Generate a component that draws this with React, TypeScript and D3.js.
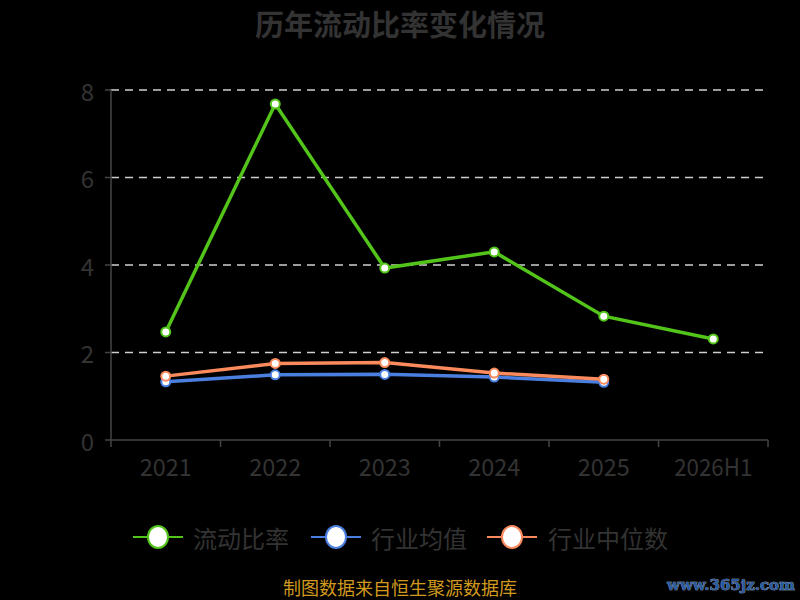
import React from "react";
import { scaleBand, scaleLinear, line } from "d3";

const categories = ["2021", "2022", "2023", "2024", "2025", "2026H1"];
const currentRatio = [2.47, 7.68, 3.93, 4.3, 2.83, 2.31];
const industryMean = [1.33, 1.49, 1.5, 1.44, 1.32];
const industryMedian = [1.46, 1.75, 1.77, 1.53, 1.39];
const yTicks = [0, 2, 4, 6, 8];

const seriesList = [
  { name: "流动比率", values: currentRatio, color: "#52c41a" },
  { name: "行业均值", values: industryMean, color: "#4a7fe0" },
  { name: "行业中位数", values: industryMedian, color: "#fb8a5c" },
];

const W = 800;
const H = 600;
const left = 111;
const right = 768;
const top = 90;
const bottom = 440;
const font = "'Noto Sans CJK SC', 'Noto Sans', sans-serif";
const textColor = "#333";

export default function App() {
  const x = scaleBand<string>().domain(categories).range([left, right]);
  const y = scaleLinear().domain([0, 8]).range([bottom, top]);
  const cx = (c: string) => (x(c) ?? 0) + x.bandwidth() / 2;

  // mean first, then median, green on top
  const drawOrder = [1, 2, 0];

  const legendItems = [
    { i: 0, sx: 158, tx: 193 },
    { i: 1, sx: 336, tx: 371 },
    { i: 2, sx: 512, tx: 548 },
  ];

  return (
    <svg
      width={W}
      height={H}
      style={{ position: "absolute", left: 0, top: 0, background: "#000" }}
    >
      <rect x={0} y={0} width={W} height={H} fill="#000" />
      <text
        x={400}
        y={23}
        textAnchor="middle"
        dominantBaseline="central"
        fontFamily={font}
        fontWeight="bold"
        fontSize={29}
        fill={textColor}
      >
        历年流动比率变化情况
      </text>

      {/* grid */}
      {yTicks.map((t) => (
        <g key={t}>
          {t > 0 && (
            <line
              x1={left}
              x2={right}
              y1={y(t)}
              y2={y(t)}
              stroke="#d0d0d0"
              strokeWidth={1.5}
              strokeDasharray="8 6"
            />
          )}
          <line x1={left - 6} x2={left} y1={y(t)} y2={y(t)} stroke="#444" strokeWidth={1.5} />
          <text
            x={left - 17}
            y={y(t)}
            textAnchor="end"
            dominantBaseline="central"
            fontFamily={font}
            fontSize={24}
            fill={textColor}
          >
            {t}
          </text>
        </g>
      ))}

      {/* axes */}
      <line x1={left} x2={left} y1={top} y2={bottom} stroke="#444" strokeWidth={1.5} />
      <line x1={left} x2={right} y1={bottom} y2={bottom} stroke="#444" strokeWidth={1.5} />
      {categories.map((c) => (
        <line
          key={"t" + c}
          x1={x(c)}
          x2={x(c)}
          y1={bottom}
          y2={bottom + 7}
          stroke="#444"
          strokeWidth={1.5}
        />
      ))}
      <line x1={right} x2={right} y1={bottom} y2={bottom + 7} stroke="#444" strokeWidth={1.5} />
      {categories.map((c) => (
        <text
          key={"l" + c}
          x={cx(c)}
          y={465}
          textAnchor="middle"
          dominantBaseline="central"
          fontFamily={font}
          fontSize={24}
          textLength={c.length * 13}
          lengthAdjust="spacingAndGlyphs"
          fill={textColor}
        >
          {c}
        </text>
      ))}

      {/* series */}
      {drawOrder.map((si) => {
        const s = seriesList[si];
        const gen = line<number>()
          .x((_, i) => cx(categories[i]))
          .y((d) => y(d));
        return (
          <g key={s.name}>
            <path d={gen(s.values) ?? ""} fill="none" stroke={s.color} strokeWidth={3.5} />
            {s.values.map((v, i) => (
              <circle
                key={i}
                cx={cx(categories[i])}
                cy={y(v)}
                r={4.5}
                fill="#fff"
                stroke={s.color}
                strokeWidth={2}
              />
            ))}
          </g>
        );
      })}

      {/* legend */}
      {legendItems.map(({ i, sx, tx }) => {
        const s = seriesList[i];
        return (
          <g key={"lg" + i}>
            <line x1={sx - 25} x2={sx + 25} y1={537} y2={537} stroke={s.color} strokeWidth={2} />
            <ellipse cx={sx} cy={537} rx={10} ry={11} fill="#fff" stroke={s.color} strokeWidth={2} />
            <text
              x={tx}
              y={537}
              dominantBaseline="central"
              fontFamily={font}
              fontSize={24}
              fill={textColor}
            >
              {s.name}
            </text>
          </g>
        );
      })}

      <text
        x={400}
        y={587}
        textAnchor="middle"
        dominantBaseline="central"
        fontFamily={font}
        fontSize={18}
        fill="#d19a1f"
      >
        制图数据来自恒生聚源数据库
      </text>
      <text
        x={795}
        y={585}
        textAnchor="end"
        dominantBaseline="central"
        fontFamily="'DejaVu Serif', serif"
        fontWeight="bold"
        fontSize={15}
        fill="#2a5aa0"
        stroke="#b8c4d4"
        strokeWidth={0.6}
        paintOrder="stroke"
      >
        www.365jz.com
      </text>
    </svg>
  );
}
